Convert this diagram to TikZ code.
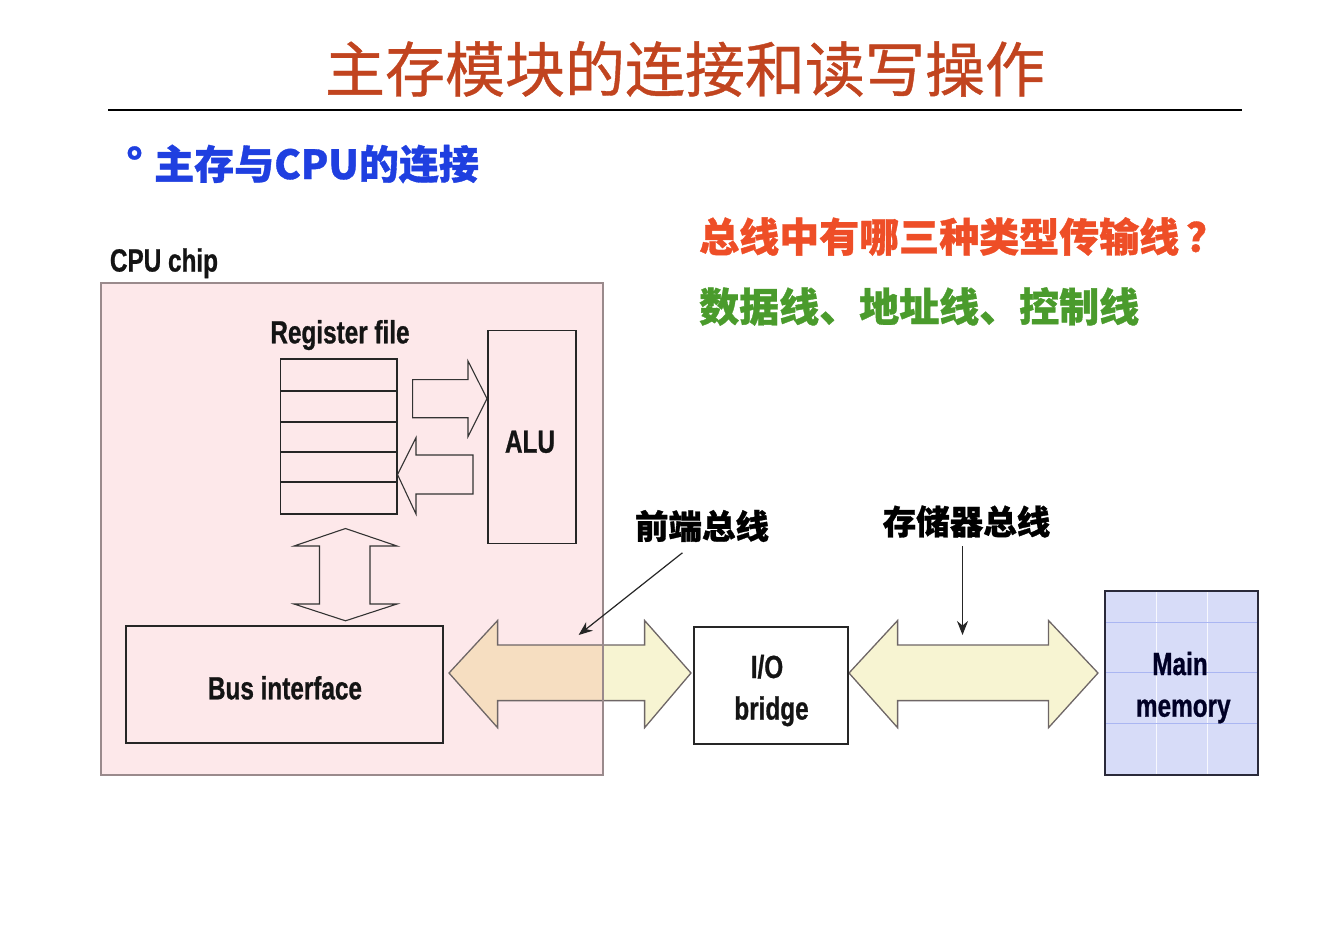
\documentclass[tikz,border=0pt]{standalone}
\usepackage{fontspec}
\newfontfamily\cjk{Noto Sans CJK SC}
\newfontfamily\cjktitle[FakeBold=0.7]{Noto Sans CJK SC}
\newfontfamily\cjkheavy[BoldFeatures={FakeBold=0.9}]{Noto Sans CJK SC}
\newfontfamily\narrowbf{Liberation Sans}[UprightFont={* Bold}, FakeStretch=0.76, FakeBold=0.8]
\usetikzlibrary{arrows.meta}
\definecolor{titlered}{HTML}{C1441F}
\definecolor{subblue}{HTML}{1F3FE0}
\definecolor{qred}{HTML}{EE4E27}
\definecolor{agreen}{HTML}{4A9B2C}
\definecolor{chippink}{HTML}{FDE8EA}
\definecolor{chipborder}{HTML}{9A8A8C}
\definecolor{busyellow}{HTML}{F7F4D2}
\definecolor{buspeach}{HTML}{F6DEC1}
\definecolor{busedge}{HTML}{6E6666}
\definecolor{memfill}{HTML}{D7DCF8}
\definecolor{memgrid}{HTML}{AAB6F2}
\definecolor{memborder}{HTML}{2A2A3A}
\begin{document}
\begin{tikzpicture}[x=1pt,y=-1pt,
  lbl/.style={font=\narrowbf\fontsize{32}{36}\selectfont, inner sep=0pt, anchor=base, text=black!92},
  cjklbl/.style={font=\cjkheavy\bfseries\fontsize{33.5}{40}\selectfont, inner sep=0pt, text=black},
  headlbl/.style={font=\cjkheavy\bfseries\fontsize{40}{44}\selectfont, inner sep=0pt},
  boxline/.style={draw=black!85, line width=1.8pt},
  hollow/.style={draw=black!80, line width=1.1pt, line join=miter},
  busarrow/.style={draw=busedge, line width=1.3pt, line join=miter},
  annot/.style={draw=black!85, line width=1.2pt, -{Stealth[length=14pt,width=11pt]}}
]
\useasboundingbox (0,0) rectangle (1322,938);

% title and headings
\node[font=\cjktitle\fontsize{60}{64}\selectfont, text=titlered, inner sep=0pt] (title) at (685,69) {主存模块的连接和读写操作};
\draw[line width=2.4pt, black] (108,110) coordinate (ruleL) -- (1242,110) coordinate (ruleR);
\node[headlbl, text=subblue] (deg) at (134.5,162) {°};
\node[headlbl, text=subblue, anchor=west] (sub) at (154,164) {主存与CPU的连接};
\node[headlbl, text=qred, anchor=west] (q) at (699,236.5) {总线中有哪三种类型传输线\kern7pt？};
\node[headlbl, text=agreen, anchor=west] (a) at (699,306.5) {数据线、地址线、控制线};

% CPU chip background
\fill[chippink] (101,283) rectangle (603,775);

% front-side bus arrow
\def\frontbuspath{(449,673) -- (497.6,620.5) -- (497.6,645) -- (644.6,645) -- (644.6,620.5) -- (691,673) -- (644.6,727.7) -- (644.6,700.6) -- (497.6,700.6) -- (497.6,727.7) -- cycle}
\fill[busyellow] \frontbuspath;
\begin{scope}
  \clip (101,283) rectangle (603,775);
  \fill[buspeach] \frontbuspath;
\end{scope}
\draw[busarrow] \frontbuspath;

% CPU chip border
\draw[chipborder, line width=1.6pt] (101,283) rectangle (603,775);
\node[lbl] (cpulbl) at (164,271.5) {CPU chip};

% register file
\node[lbl] (reglbl) at (340,343.3) {Register file};
\draw[boxline] (280.5,359) rectangle (397,514);
\foreach \yy in {391,421.7,451.6,482} \draw[boxline] (280.5,\yy) -- (397,\yy);

% ALU
\draw[boxline] (488,330.5) rectangle (576,543.5);
\node[lbl] (alulbl) at (530,452.7) {ALU};

% internal arrows
\draw[hollow] (412.6,379.6) -- (468,379.6) -- (468,361) -- (487,398.6) -- (468,436.6) -- (468,417.7) -- (412.6,417.7) -- cycle;
\draw[hollow] (473,455) -- (416,455) -- (416,437.7) -- (397.5,474.5) -- (416,514) -- (416,494) -- (473,494) -- cycle;
\draw[hollow] (345.5,528.5) -- (397,546) -- (370,546) -- (370,604) -- (397,604) -- (345.5,620.8) -- (294,604) -- (319.5,604) -- (319.5,546) -- (294,546) -- cycle;

% bus interface
\draw[boxline] (126,626) rectangle (442.7,743);
\node[lbl] (buslbl) at (285,699.3) {Bus interface};

% memory bus arrow
\draw[busarrow, fill=busyellow] (849,673) -- (897.6,620.5) -- (897.6,645) -- (1048.5,645) -- (1048.5,620.5) -- (1098,673) -- (1048.5,727.7) -- (1048.5,700.6) -- (897.6,700.6) -- (897.6,727.7) -- cycle;

% I/O bridge
\draw[boxline, fill=white] (694,627) rectangle (848,744);
\node[lbl] (iolbl) at (767,678) {I/O};
\node[lbl] (bridgelbl) at (771.5,719.5) {bridge};

% main memory
\fill[memfill] (1104.5,590.5) rectangle (1257.5,774.5);
\foreach \xx in {1156,1207} \draw[white!80!memfill, line width=0.9pt] (\xx,590.5) -- (\xx,774.5);
\foreach \yy in {622,672.6,723.4} \draw[memgrid, line width=0.9pt] (1104.5,\yy) -- (1257.5,\yy);
\draw[memborder, line width=2pt] (1104.5,590.5) rectangle (1257.5,774.5);
\node[lbl, text=black!85!blue] (mainlbl) at (1180,675) {Main};
\node[lbl, text=black!85!blue] (memlbl) at (1183.3,716.7) {memory};

% annotations
\node[cjklbl] (fsb) at (702,526) {前端总线};
\node[cjklbl] (membus) at (966.5,521.5) {存储器总线};
\coordinate (fsbStart) at (682.4,552.8);
\coordinate (fsbTip) at (578.6,635);
\coordinate (mbStart) at (962.5,546);
\coordinate (mbTip) at (962.5,635);
\draw[annot] (fsbStart) -- (fsbTip);
\draw[annot] (mbStart) -- (mbTip);
\end{tikzpicture}
\end{document}
